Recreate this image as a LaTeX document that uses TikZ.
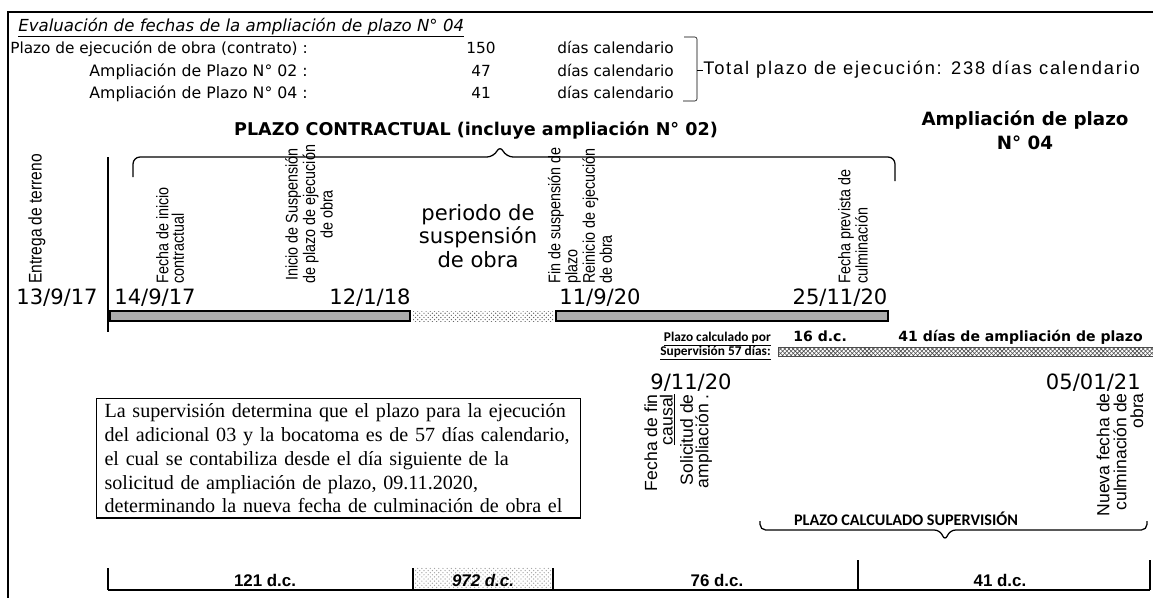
\documentclass[tikz,border=0pt]{standalone}
\usepackage{fontspec}
\setmainfont{DejaVu Sans}
\newfontfamily\arialf{Liberation Sans}
\newfontfamily\narrowf[FakeStretch=0.85]{Liberation Sans}
\newfontfamily\totalf[LetterSpace=10]{Liberation Sans}
\newfontfamily\notaf{Liberation Serif}
\newfontfamily\calif{Carlito}
\usepackage{tikz}
\usetikzlibrary{positioning}
\usetikzlibrary{patterns}
\tikzset{
  txt/.style={font=\fontsize{10.9}{13}\selectfont,inner sep=0pt},
  fecha/.style={font=\fontsize{15}{18}\selectfont,inner sep=0pt,anchor=base},
  vlab/.style={rotate=90,anchor=west,inner sep=0pt,font=\narrowf\fontsize{12}{#1}\selectfont},
  vlab/.default=12.5,
  vlabb/.style={rotate=90,anchor=east,inner sep=0pt,align=right,font=\arialf\fontsize{12.5}{#1}\selectfont},
  vlabb/.default=12,
  barra/.style={draw=black,line width=1.2pt,fill=gray!65},
  tramo/.style={font=\arialf\bfseries\fontsize{12}{14}\selectfont,anchor=base,inner sep=0pt},
  llave/.style={line width=0.9pt,rounded corners=5pt}
}
\begin{document}
\begin{tikzpicture}[x=0.025cm,y=-0.025cm]
\useasboundingbox (0,0) rectangle (1153,598);
\draw[line width=0.8pt] (8,598) -- (8,12) -- (1153,12);

\node[txt,anchor=base west,font=\itshape\fontsize{11.8}{13}\selectfont] (titulo) at (18,31) {\underline{Evaluación de fechas de la ampliación de plazo N° 04}};
\node[txt,anchor=base east] (f1) at (308,53) {Plazo de ejecución de obra (contrato) :};
\node[txt,anchor=base east,font=\fontsize{11.2}{13}\selectfont] (f2) at (308,76) {Ampliación de Plazo N° 02 :};
\node[txt,anchor=base east,font=\fontsize{11.2}{13}\selectfont] (f3) at (308,98) {Ampliación de Plazo N° 04 :};
\node[txt,anchor=base] (n1) at (481,53) {150};
\node[txt,anchor=base] (n2) at (481,76) {47};
\node[txt,anchor=base] (n3) at (481,98) {41};
\node[txt,anchor=base west] (d1) at (557,53) {días calendario};
\node[txt,anchor=base west] (d2) at (557,76) {días calendario};
\node[txt,anchor=base west] (d3) at (557,98) {días calendario};
\coordinate (bt0) at (684,37);
\coordinate (bt) at (697,37);
\coordinate (bb) at (697,101);
\coordinate (bb0) at (683,101);
\draw[rounded corners=1.5pt] (bt0) -- (bt) -- (bb) -- (bb0);
\node[anchor=west,inner sep=0pt,font=\totalf\fontsize{13}{15}\selectfont] (total) at (703,70) {Total plazo de ejecución: 238 días calendario};
\draw (bb |- total.west) -- (total.west);

\node[font=\bfseries\fontsize{12.5}{15}\selectfont,inner sep=0pt] (contractual) at (476,130) {PLAZO CONTRACTUAL (incluye ampliación N° 02)};
\node[font=\bfseries\fontsize{13}{17}\selectfont,align=center,inner sep=0pt] (amp04) at (1025,130) {Ampliación de plazo\\N° 04};
\draw[llave] (133,177) -- (133,157) -- (494,157) -- (500,145) -- (506,157) -- (895,157) -- (895,181);
\draw[line width=0.8pt] (108,157) -- (108,332);

\node[vlab] [font=\narrowf\fontsize{13}{12.5}\selectfont] (entrega) at (37,284) {Entrega de terreno};
\node[vlab=11,align=left] (inicio) at (170,284) {Fecha de inicio\\contractual};
\node[vlab=12.5,align=center] (susp) at (309,284) {Inicio de Suspensión\\de plazo de ejecución\\de obra};
\node[font=\fontsize{15}{16.5}\selectfont,align=center,inner sep=0pt] (periodo) at (478,236) {periodo de\\suspensión\\de obra};
\node[vlab=10,align=left] (fin) at (580,284) {Fin de suspensión de\\plazo\\Reinicio de ejecución\\de obra};
\node[vlab=11,align=left] (prevista) at (853,284) {Fecha prevista de\\culminación};

\node[fecha] (f13) at (57,304) {13/9/17};
\node[fecha] (f14) at (155,304) {14/9/17};
\node[fecha] (f12) at (370,304) {12/1/18};
\node[fecha] (f11) at (600,304) {11/9/20};
\node[fecha] (f25) at (840,304) {25/11/20};

\draw[barra] (110,311) rectangle (410,321);
\fill[pattern=crosshatch dots,pattern color=black!60] (413,311) rectangle (553,321);
\draw[barra] (556,311) rectangle (888,321);

\node[font=\calif\bfseries\fontsize{9.5}{11}\selectfont,anchor=base east,inner sep=0pt] (calc1) at (771,341) {\underline{Plazo calculado por}};
\node[font=\calif\bfseries\fontsize{9.5}{11}\selectfont,anchor=base east,inner sep=0pt] (calc2) at (771,355) {\underline{Supervisión 57 días:}};
\node[font=\bfseries\fontsize{10}{12}\selectfont,anchor=base west,inner sep=0pt] (dc16) at (793,341) {16 d.c.};
\node[font=\bfseries\fontsize{10}{12}\selectfont,anchor=base east,inner sep=0pt] (dias41) at (1143,341) {41 días de ampliación de plazo};
\draw[pattern=crosshatch,pattern color=gray!60!black,draw=gray!60!black] (778,347) rectangle (1153,356);

\node[fecha] (f09) at (691,389) {9/11/20};
\node[fecha,anchor=base east] (f05) at (1141,389) {05/01/21};

\node[draw,line width=0.8pt,anchor=north west,align=left,text width=11.7cm,inner xsep=0.2cm,inner ysep=0.12cm,
  font=\notaf\fontsize{14.3}{17}\selectfont] (nota) at (96,398)
  {La supervisión determina que el plazo para la ejecución\\
   del adicional 03 y la bocatoma es de 57 días calendario,\\
   el cual se contabiliza desde el día siguiente de la\\
   solicitud de ampliación de plazo, 09.11.2020,\\
   determinando la nueva fecha de culminación de obra el};

\node[vlabb=11] (fincausal) at (660,394) {Fecha de fin\\\underline{causal}};
\node[vlabb=11] (solicitud) at (696,394) {Solicitud de\\ampliación .};
\node[vlabb] (nueva) at (1120,393) {Nueva fecha de\\culminación de\\obra};

\node[font=\calif\bfseries\fontsize{11.5}{13}\selectfont,inner sep=0pt] (plazosup) at (906,519) {PLAZO CALCULADO SUPERVISIÓN};
\draw[llave,rounded corners=4pt] (760,521) -- (760,530) -- (940,530) -- (945,541) -- (950,530) -- (1147,530) -- (1147,521);

\coordinate (t0) at (108,590);
\coordinate (t1) at (413,590);
\coordinate (t2) at (553,590);
\coordinate (t3) at (858,590);
\coordinate (t4) at (1150,590);
\fill[pattern=crosshatch dots,pattern color=gray!70] (415,567) rectangle (551,588);
\draw[line width=0.8pt] (t0) -- (t4);
\foreach \t/\h in {t0/22,t1/22,t2/22,t3/30,t4/30}
  \draw[line width=0.8pt] (\t) -- ++(0,-\h);
\node[tramo] (tr121) at (265,586) {121 d.c.};
\node[tramo] (tr972) at (483,586) {\itshape 972 d.c.};
\node[tramo] (tr76) at (717,586) {76 d.c.};
\node[tramo] (tr41) at (1000,586) {41 d.c.};
\end{tikzpicture}
\end{document}
